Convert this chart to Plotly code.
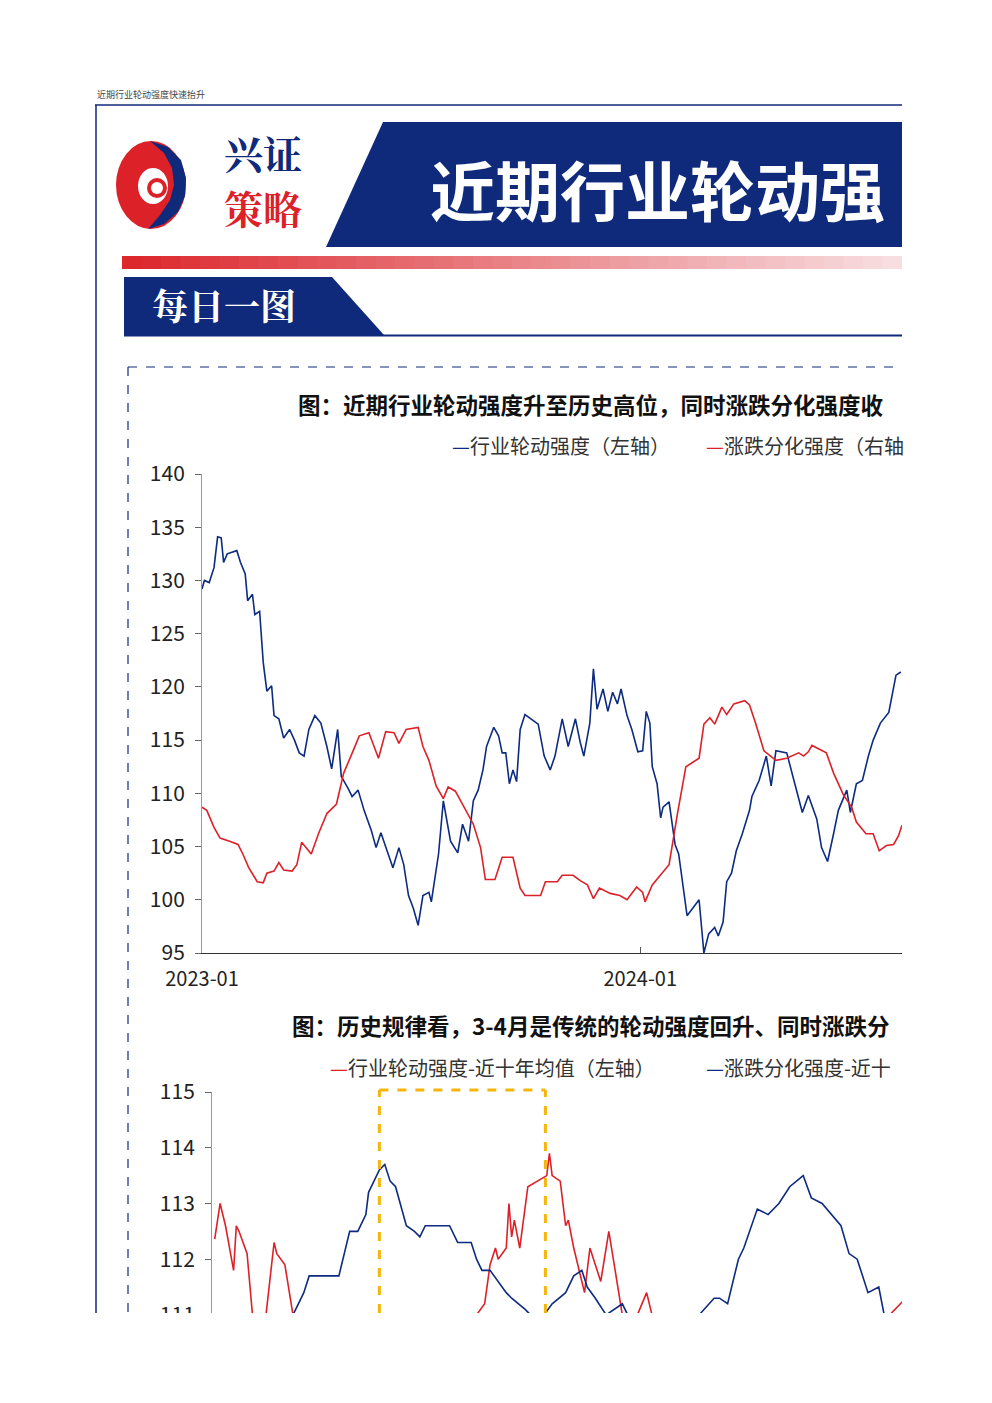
import plotly.graph_objects as go
import pandas as pd

# ---------- data ----------
blue_days = [0,2,6,10,13,16,18,21,29,32,36,38,42,44,48,51,54,58,60,64,68,73,77,81,85,89,94,99,104,108,113,116,122,125,130,135,141,145,149,155,159,164,168,172,176,180,184,189,191,197,201,207,213,217,222,226,230,234,237,243,247,250,253,256,259,262,265,269,280,285,290,294,300,305,311,315,318,323,326,329,334,338,342,346,349,354,358,363,367,370,373,375,379,382,384,389,394,397,400,404,414,418,422,427,430,434,437,441,445,450,456,458,464,470,474,478,487,494,500,505,512,516,521,526,530,537,540,545,550,555,559,565,572,578,582]
blue_vals = [129.2,130.0,129.8,131.2,134.1,134.0,131.7,132.5,132.8,131.7,130.6,128.1,128.7,126.8,127.1,122.3,119.6,120.1,117.3,117.0,115.2,116.0,115.0,113.8,113.5,116.0,117.3,116.6,114.4,112.3,116.0,111.6,110.4,109.7,110.3,108.4,106.5,104.9,106.3,104.3,103.0,104.9,103.3,100.4,99.2,97.6,100.4,100.7,99.8,104.3,109.3,105.5,104.4,107.1,105.5,109.3,110.3,112.2,114.4,116.2,115.4,113.8,113.8,110.9,112.2,111.1,116.0,117.4,116.5,113.5,112.2,113.5,117.0,114.4,117.0,114.8,113.5,116.6,121.7,117.9,119.8,117.7,119.5,118.4,119.8,117.3,116.0,113.9,114.0,117.7,116.6,112.5,110.9,107.7,108.7,109.2,105.2,104.3,101.7,98.5,100.0,95.0,96.8,97.4,96.6,97.9,101.7,102.5,104.6,106.2,108.4,109.7,111.2,113.5,110.7,114.0,113.8,110.9,108.2,109.8,107.6,104.9,103.6,106.2,108.4,110.3,108.2,110.9,111.2,113.5,115.0,116.6,117.6,121.1,121.4]
red_days = [0,4,10,15,23,30,34,39,46,51,54,60,64,68,75,79,83,87,91,97,104,112,118,124,131,139,147,153,160,164,170,180,184,189,195,201,205,211,218,226,232,236,244,250,259,265,269,282,286,296,300,309,315,321,326,331,340,348,354,358,362,367,369,375,383,389,396,403,414,418,423,427,433,437,443,452,456,461,468,474,478,487,497,501,505,508,517,520,526,534,541,545,553,559,564,570,576,580,583]
red_vals = [108.7,108.4,106.8,105.8,105.5,105.2,104.3,103.0,101.7,101.6,102.5,102.7,103.5,102.8,102.7,103.3,105.4,104.9,104.3,106.2,108.1,109.0,111.9,113.5,115.4,115.7,113.3,115.8,115.7,114.7,116.0,116.2,114.4,113.1,110.7,109.5,110.6,110.2,108.7,107.1,104.9,101.9,101.9,104.0,104.0,101.1,100.4,100.4,101.7,101.7,102.3,102.3,101.8,101.4,100.1,101.1,100.6,100.4,100.0,100.6,101.2,100.7,99.8,101.4,102.5,103.3,108.1,112.5,113.3,116.5,117.1,116.5,118.1,117.4,118.4,118.7,118.3,116.6,114.0,113.5,113.1,113.3,113.8,113.5,113.9,114.5,114.0,113.8,111.9,109.9,108.7,107.3,106.2,106.2,104.6,105.1,105.2,106.0,107.0]
start_date = "2023-01-01"
x1_ticks = ["2023-01-01", "2024-01-01"]

h_red_days = [-2,0,2,5,6,7,10,12,14,17,20,21,24,26,28,35,50,65,80,95,98,100,102,103,106,107,108,109,111,114,121,122,123,126,128,129,131,133,135,137,141,144,146,149,152,158,160,180,210,240,254]
h_red_vals = [112.36,113.0,112.6,111.8,112.6,112.5,112.1,111.0,110.7,111.0,112.3,112.1,111.9,111.3,110.7,110.3,110.5,110.2,110.6,111.0,111.2,111.9,112.2,112.0,112.2,113.0,112.4,112.7,112.2,113.3,113.5,113.9,113.5,113.4,112.6,112.7,112.2,111.8,111.4,112.2,111.6,112.5,111.9,111.0,110.7,111.4,111.0,110.5,110.3,110.6,111.3]
h_blue_days = [20,27,29,31,33,37,44,48,51,54,55,57,59,61,63,65,68,69,72,74,76,81,85,88,93,95,97,100,103,106,108,113,115,120,123,128,131,134,136,139,143,149,152,160,170,183,185,188,192,194,199,203,207,211,216,219,223,230,233,236,240,244,246,250,255]
h_blue_vals = [110.6,111.0,111.2,111.4,111.7,111.7,111.7,112.5,112.5,112.8,113.2,113.4,113.6,113.7,113.4,113.3,112.8,112.6,112.5,112.4,112.6,112.6,112.6,112.3,112.3,112.0,111.8,111.8,111.6,111.4,111.3,111.1,111.0,111.0,111.2,111.4,111.7,111.8,111.5,111.3,111.0,111.2,110.9,110.6,110.6,111.3,111.3,111.2,112.0,112.2,112.9,112.8,113.0,113.3,113.5,113.1,113.0,112.6,112.1,112.0,111.4,111.5,111.0,110.7,110.4]
box_days = [59, 120.5]

NAVY = "#0f2a7a"
BLUE = "#0d2b80"
RED = "#dc2129"
FONT = "Noto Sans CJK SC"
W, H = 992, 1403
fx = lambda x: x / W
fy = lambda y: 1 - y / H

d0 = pd.Timestamp(start_date)
bx = [d0 + pd.Timedelta(days=d) for d in blue_days]
rx = [d0 + pd.Timedelta(days=d) for d in red_days]

fig = go.Figure()
fig.add_trace(go.Scatter(x=bx, y=blue_vals, mode="lines", line=dict(color=BLUE, width=1.6), xaxis="x", yaxis="y", showlegend=False))
fig.add_trace(go.Scatter(x=rx, y=red_vals, mode="lines", line=dict(color=RED, width=1.6), xaxis="x", yaxis="y", showlegend=False))
fig.add_trace(go.Scatter(x=h_red_days, y=h_red_vals, mode="lines", line=dict(color=RED, width=1.6), xaxis="x2", yaxis="y2", showlegend=False))
fig.add_trace(go.Scatter(x=h_blue_days, y=h_blue_vals, mode="lines", line=dict(color=BLUE, width=1.6), xaxis="x2", yaxis="y2", showlegend=False))

tickfont = dict(family=FONT, size=21, color="#222")
x1_end = d0 + pd.Timedelta(days=583)
fig.update_layout(
    width=W, height=H, margin=dict(l=0, r=0, t=0, b=0, pad=0, autoexpand=False), autosize=False,
    paper_bgcolor="white", plot_bgcolor="white", showlegend=False,
    xaxis=dict(domain=[fx(202), fx(902)], range=[d0, x1_end], tickvals=x1_ticks, ticktext=["2023-01", "2024-01"],
               ticks="inside", ticklen=6, tickcolor="#555", showline=True, linecolor="#333", showgrid=False,
               tickfont=dict(family=FONT, size=20, color="#222"), zeroline=False, ticklabelstandoff=8, automargin=False),
    yaxis=dict(domain=[fy(953), fy(474)], range=[95, 140], dtick=5, ticks="outside", ticklen=6, tickcolor="#666",
               showline=True, linecolor="#999", showgrid=False, tickfont=tickfont, zeroline=False, ticklabelstandoff=6,
               automargin=False),
    xaxis2=dict(domain=[fx(212), fx(902)], range=[-3, 252.6], visible=False, anchor="y2", automargin=False),
    yaxis2=dict(domain=[fy(1340), fy(1092)], range=[110.55, 115], dtick=1, ticks="outside", ticklen=6, tickcolor="#666",
                showline=True, linecolor="#999", showgrid=False, tickfont=tickfont, zeroline=False, anchor="x2",
                ticklabelstandoff=6, automargin=False),
)

shapes = []
def rect(x0, y0, x1, y1, color, layer="below"):
    shapes.append(dict(type="rect", xref="paper", yref="paper", x0=fx(x0), x1=fx(x1), y0=fy(y1), y1=fy(y0),
                       fillcolor=color, line=dict(width=0), layer=layer))
def poly(pts, color):
    p = "M " + " L ".join(f"{fx(a)},{fy(b)}" for a, b in pts) + " Z"
    shapes.append(dict(type="path", xref="paper", yref="paper", path=p, fillcolor=color, line=dict(width=0), layer="below"))
def line(x0, y0, x1, y1, color, width=1, dash="solid", layer="below"):
    shapes.append(dict(type="line", xref="paper", yref="paper", x0=fx(x0), x1=fx(x1), y0=fy(y0), y1=fy(y1),
                       line=dict(color=color, width=width, dash=dash), layer=layer))

line(95, 105, 902, 105, NAVY, 1.5)
line(96, 105, 96, 1313, NAVY, 1.5)
poly([(383, 122), (902, 122), (902, 247), (326, 247)], NAVY)
n = 40
for i in range(n):
    t = i / (n - 1)
    r = int(220 + (248 - 220) * t); g = int(40 + (222 - 40) * t); b = int(45 + (225 - 45) * t)
    rect(122 + i * (780 / n), 256, 122 + (i + 1) * (780 / n) + 0.5, 269, f"rgb({r},{g},{b})")
poly([(124, 277), (332, 277), (384, 335), (124, 335)], NAVY)
line(124, 335.5, 902, 335.5, NAVY, 2)
line(128, 367, 902, 367, NAVY, 1.2, "dash")
line(128, 367, 128, 1313, NAVY, 1.2, "dash")
# logo
shapes.append(dict(type="circle", xref="paper", yref="paper", x0=fx(116), x1=fx(186), y0=fy(229), y1=fy(141),
                   fillcolor=RED, line=dict(width=0), layer="below"))
poly([(150, 141), (168, 147), (181, 160), (186, 178), (185, 196), (178, 212), (164, 224), (148, 229), (160, 215), (170, 200), (174, 185), (172, 168), (164, 153)], NAVY)
shapes.append(dict(type="circle", xref="paper", yref="paper", x0=fx(138), x1=fx(168), y0=fy(204), y1=fy(168),
                   fillcolor="white", line=dict(width=0), layer="below"))
shapes.append(dict(type="circle", xref="paper", yref="paper", x0=fx(147), x1=fx(167), y0=fy(198), y1=fy(178),
                   fillcolor=RED, line=dict(width=0), layer="below"))
shapes.append(dict(type="circle", xref="paper", yref="paper", x0=fx(151), x1=fx(163), y0=fy(194), y1=fy(182),
                   fillcolor="white", line=dict(width=0), layer="below"))
YEL = dict(color="#f5b50a", width=3, dash="dash")
for dd in box_days:
    shapes.append(dict(type="line", xref="x2", yref="paper", x0=dd, x1=dd, y0=fy(1313), y1=fy(1090), line=YEL))
shapes.append(dict(type="line", xref="x2", yref="paper", x0=box_days[0], x1=box_days[1], y0=fy(1090), y1=fy(1090), line=YEL))
rect(0, 1313, 992, 1403, "white", "above")
rect(902, 0, 992, 1403, "white", "above")
fig.update_layout(shapes=shapes)

ann = []
def text(x, y, s, size, color, bold=False, anchor="left", family=FONT):
    ann.append(dict(xref="paper", yref="paper", x=fx(x), y=fy(y), text=f"<b>{s}</b>" if bold else s,
                    showarrow=False, xanchor=anchor, yanchor="middle",
                    font=dict(family=family, size=size, color=color)))
text(95, 95, "近期行业轮动强度快速抬升", 9, "#444")
text(222, 152, "兴证", 39, NAVY, True, family="Noto Serif CJK SC, " + FONT)
text(222, 207, "策略", 39, RED, True, family="Noto Serif CJK SC, " + FONT)
text(428, 188, "近期行业轮动强", 65, "white", True)
text(150, 305, "每日一图", 36, "white", True, family="Noto Serif CJK SC, " + FONT)
text(296, 404, "图：近期行业轮动强度升至历史高位，同时涨跌分化强度收", 22.5, "#111", True)
text(450, 445, f"<span style='color:{BLUE}'>—</span>行业轮动强度（左轴）", 20, "#333")
text(704, 445, f"<span style='color:{RED}'>—</span>涨跌分化强度（右轴", 20, "#333")
text(290, 1025, "图：历史规律看，3-4月是传统的轮动强度回升、同时涨跌分", 22.5, "#111", True)
text(328, 1067, f"<span style='color:{RED}'>—</span>行业轮动强度-近十年均值（左轴）", 20, "#333")
text(704, 1067, f"<span style='color:{BLUE}'>—</span>涨跌分化强度-近十", 20, "#333")
fig.update_layout(annotations=ann)

fig.write_html("out.html", config={"displayModeBar": False},
               post_script="document.body.style.margin='0';document.body.style.overflow='hidden';")
